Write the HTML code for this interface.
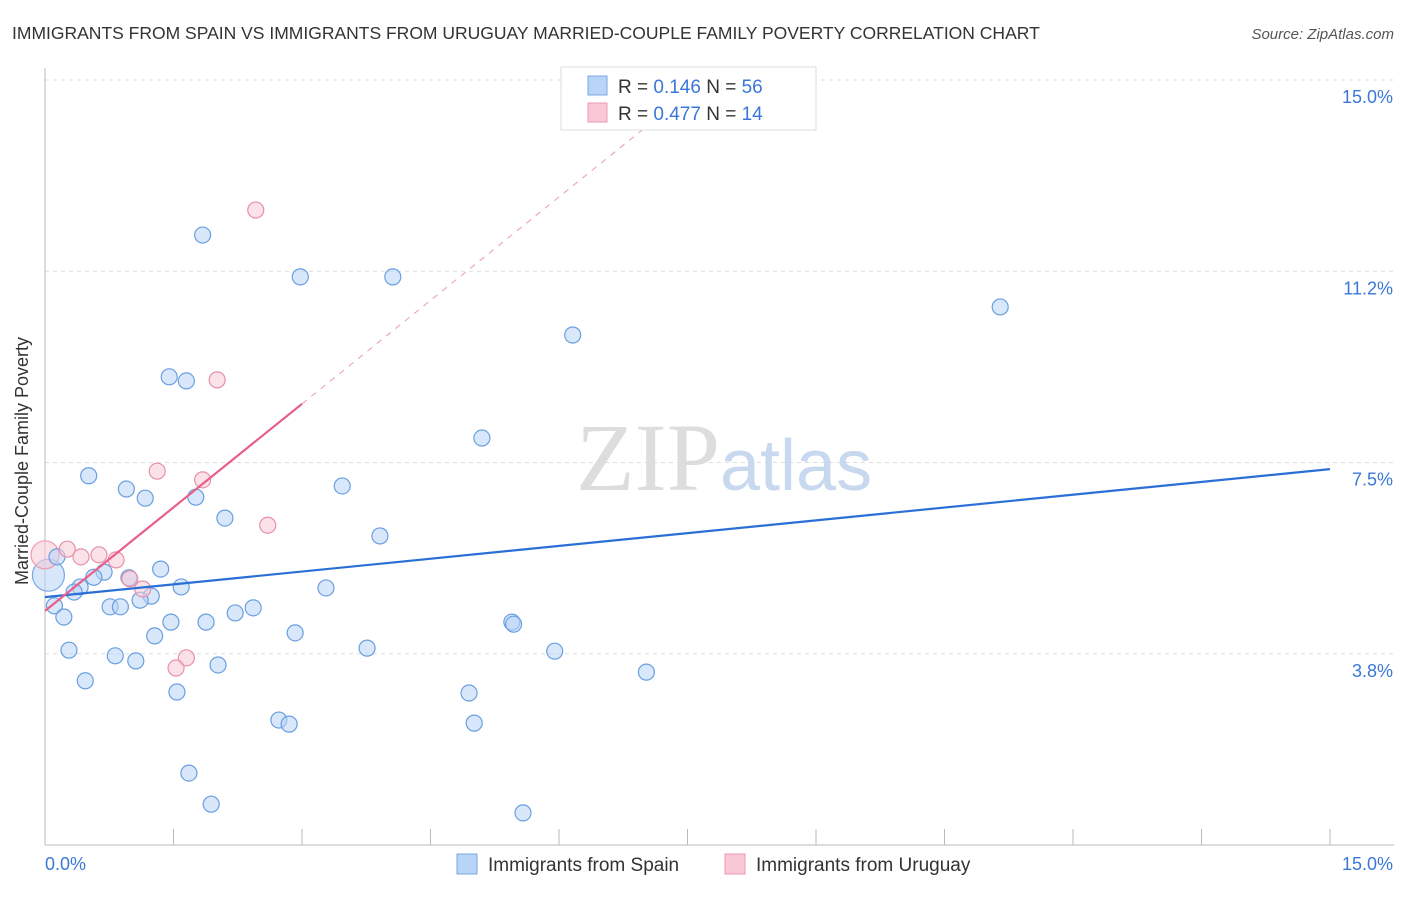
<!DOCTYPE html>
<html><head><meta charset="utf-8"><style>
body{margin:0;background:#fff;font-family:"Liberation Sans",sans-serif;}
</style></head><body>
<svg width="1406" height="892" xmlns="http://www.w3.org/2000/svg" font-family="Liberation Sans, sans-serif">
<text x="12" y="39" font-size="17.5" fill="#333">IMMIGRANTS FROM SPAIN VS IMMIGRANTS FROM URUGUAY MARRIED-COUPLE FAMILY POVERTY CORRELATION CHART</text>
<text x="1394" y="39" font-size="15" fill="#555" font-style="italic" text-anchor="end">Source: ZipAtlas.com</text>
<g id="grid"></g>
<g id="axes"></g>
<text x="720" y="490" font-size="96" fill="#ddd" text-anchor="end" font-family="Liberation Serif, serif">ZIP</text>
<text x="720" y="490" font-size="72" fill="#c8d8ee">atlas</text>
<g id="marks"></g>
<text x="22" y="455" font-size="18" fill="#333" text-anchor="middle" transform="rotate(-90 28 455)">Married-Couple Family Poverty</text>
<g>
<rect x="561" y="67" width="255" height="63" fill="#fff" stroke="#ddd"/>
<rect x="588" y="76" width="19" height="19" fill="#b8d4f6" stroke="#7aa8e6"/>
<text x="618" y="93" font-size="19" fill="#333">R = <tspan fill="#3a78d8">0.146</tspan>   N = <tspan fill="#3a78d8">56</tspan></text>
<rect x="588" y="103" width="19" height="19" fill="#f8c8d6" stroke="#ee9ab2"/>
<text x="618" y="120" font-size="19" fill="#333">R = <tspan fill="#3a78d8">0.477</tspan>   N = <tspan fill="#3a78d8">14</tspan></text>
</g>
<g>
<rect x="457" y="854" width="20" height="20" fill="#b8d4f6" stroke="#7aa8e6"/>
<text x="488" y="871" font-size="19" fill="#333">Immigrants from Spain</text>
<rect x="725" y="854" width="20" height="20" fill="#f8c8d6" stroke="#ee9ab2"/>
<text x="756" y="871" font-size="19" fill="#333">Immigrants from Uruguay</text>
</g>
</svg>
<script>
const spainX=[1.84,2.98,4.06,6.16,11.15,1.45,1.65,5.10,0.51,0.95,1.17,1.76,3.47,2.10,3.91,0.14,1.35,0.69,0.57,0.98,0.41,0.34,1.59,3.28,1.24,1.11,0.76,0.88,0.11,0.22,2.43,2.22,1.47,1.88,5.45,5.47,1.28,2.92,0.28,3.76,5.95,0.82,1.06,2.02,7.02,0.47,1.54,4.95,2.73,2.85,5.01,1.68,1.94,5.58];
const spainY=[11.96,11.14,11.14,10.0,10.55,9.18,9.10,7.98,7.24,6.98,6.80,6.82,7.04,6.41,6.06,5.65,5.41,5.35,5.25,5.24,5.06,4.96,5.06,5.04,4.88,4.80,4.67,4.67,4.69,4.47,4.65,4.55,4.37,4.37,4.37,4.33,4.10,4.16,3.82,3.86,3.80,3.71,3.61,3.53,3.39,3.22,3.00,2.98,2.45,2.37,2.39,1.41,0.80,0.63];
const uruX=[2.46,2.01,1.31,1.84,2.60,0.26,0.42,0.63,0.83,0.99,1.14,1.65,1.53];
const uruY=[12.45,9.12,7.33,7.16,6.27,5.80,5.65,5.69,5.59,5.22,5.02,3.67,3.47];
const bigSpain=[0.04,5.29], bigUru=[0.0,5.69];
const spainTrend=[[0,4.86],[15,7.37]];
const uruTrend=[[0,4.59],[3,8.65]];
const uruTrendExt=[[3,8.65],[7.06,14.14]];
const yTicks=[3.75,7.5,11.25,15];
const yTickLabels=["3.8%","7.5%","11.2%","15.0%"];
const xTicks=[0,1.5,3,4.5,6,7.5,9,10.5,12,13.5,15];
const X=v=>45+v*1285/15, Y=v=>845-v*51;
const NS="http://www.w3.org/2000/svg";
function mk(tag,attrs,parent){const e=document.createElementNS(NS,tag);for(const k in attrs)e.setAttribute(k,attrs[k]);parent.appendChild(e);return e;}
const grid=document.getElementById('grid'),axes=document.getElementById('axes'),marks=document.getElementById('marks');
yTicks.forEach((t,i)=>{
 const l=mk('line',{x1:45,x2:1394,y1:Y(t),y2:Y(t),stroke:'#ddd','stroke-dasharray':'4,4'},grid);
 
 
 const tx=mk('text',{x:1393,y:Y(t)+23,'font-size':18,fill:'#3a78d8','text-anchor':'end'},axes);
 tx.textContent=yTickLabels[i];
 
 
});
mk('line',{x1:45,x2:45,y1:68,y2:845,stroke:'#bbb'},axes);
mk('line',{x1:45,x2:1394,y1:845,y2:845,stroke:'#bbb'},axes);
xTicks.forEach(t=>{const l=mk('line',{x1:X(t),x2:X(t),y1:829,y2:845,stroke:'#bbb'},axes);
 
 });
let t0=mk('text',{x:45,y:870,'font-size':18,fill:'#3a78d8'},axes);t0.textContent="0.0%";


let t1=mk('text',{x:1393,y:870,'font-size':18,fill:'#3a78d8','text-anchor':'end'},axes);t1.textContent="15.0%";


function dot(x,y,r,f,s,name){const c=mk('circle',{cx:X(x),cy:Y(y),r:r,fill:f,'fill-opacity':0.55,stroke:s,'stroke-width':1.2},marks);
 
 }
dot(bigSpain[0],bigSpain[1],16,'#b8d4f6','#7aa8e6','spain-point');
dot(bigUru[0],bigUru[1],14,'#f8c8d6','#ee9ab2','uruguay-point');
spainX.forEach((x,i)=>dot(x,spainY[i],8,'#b8d4f6','#6a9fe0','spain-point'));
uruX.forEach((x,i)=>dot(x,uruY[i],8,'#f8c8d6','#e890a8','uruguay-point'));
function ln(p,st,dash,w,name){const l=mk('line',{x1:X(p[0][0]),y1:Y(p[0][1]),x2:X(p[1][0]),y2:Y(p[1][1]),stroke:st,'stroke-width':w},marks);
 if(dash)l.setAttribute('stroke-dasharray',dash);
 
 }
ln(spainTrend,'#2a6fd6',null,2.2,'spain-trendline');
ln(uruTrend,'#e8608a',null,2.2,'uruguay-trendline');
ln(uruTrendExt,'#f0a8bc','6,6',1.2,'uruguay-trendline-extension');
</script>
</body></html>
